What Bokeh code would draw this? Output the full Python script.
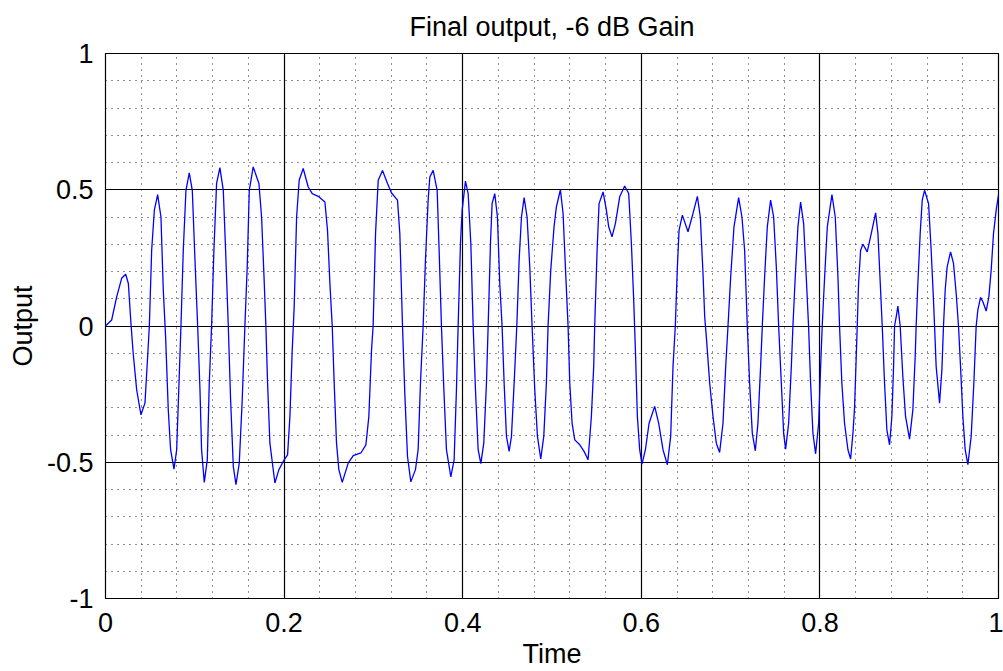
from bokeh.plotting import figure
from bokeh.models import Range1d, FixedTicker, CustomJSTickFormatter, ColumnDataSource
from bokeh.embed import file_html
from bokeh.resources import INLINE

# ---- data ----
time = [
    0.0, 0.0069, 0.0125, 0.0181, 0.0226, 0.0256, 0.0285, 0.031, 0.0349, 0.0397,
    0.0442, 0.0472, 0.0491, 0.0517, 0.0547, 0.0584, 0.0621, 0.0647, 0.0673, 0.0703,
    0.0729, 0.0767, 0.0797, 0.0823, 0.0845, 0.0871, 0.0901, 0.0938, 0.0972, 0.1002,
    0.1032, 0.1058, 0.1076, 0.1106, 0.114, 0.1162, 0.1188, 0.1214, 0.1244, 0.1281,
    0.1319, 0.1345, 0.1375, 0.1401, 0.1431, 0.1461, 0.1498, 0.1531, 0.1561, 0.1587,
    0.161, 0.1654, 0.1718, 0.1748, 0.1778, 0.1796, 0.1815, 0.1841, 0.1897, 0.1942,
    0.2001, 0.2039, 0.2065, 0.2091, 0.2113, 0.214, 0.2169, 0.2214, 0.227, 0.2315,
    0.2382, 0.2457, 0.2486, 0.2513, 0.2539, 0.2561, 0.2587, 0.2613, 0.2651, 0.2718,
    0.2774, 0.286, 0.2916, 0.2949, 0.2979, 0.2997, 0.3024, 0.3054, 0.3102, 0.3158,
    0.3203, 0.327, 0.3296, 0.3326, 0.3352, 0.3382, 0.3419, 0.3471, 0.3501, 0.3527,
    0.3557, 0.3583, 0.3613, 0.3632, 0.3669, 0.3714, 0.3736, 0.3762, 0.3789, 0.3818,
    0.3867, 0.3904, 0.393, 0.3949, 0.3975, 0.3994, 0.4031, 0.4061, 0.4091, 0.4117,
    0.4143, 0.4173, 0.4203, 0.4236, 0.4266, 0.4285, 0.4311, 0.4329, 0.4359, 0.4389,
    0.4415, 0.4441, 0.4464, 0.449, 0.452, 0.4546, 0.4576, 0.4606, 0.4632, 0.4658,
    0.4688, 0.4721, 0.4751, 0.4777, 0.4807, 0.4837, 0.4874, 0.4908, 0.4937, 0.4956,
    0.4986, 0.5023, 0.5049, 0.5094, 0.5124, 0.515, 0.518, 0.5199, 0.5225, 0.5255,
    0.5311, 0.5359, 0.5404, 0.5441, 0.5467, 0.5478, 0.5505, 0.5527, 0.5572, 0.5609,
    0.5635, 0.5672, 0.571, 0.5758, 0.5814, 0.5859, 0.5889, 0.5915, 0.5934, 0.5956,
    0.5982, 0.6008, 0.6046, 0.6087, 0.615, 0.6195, 0.6243, 0.6292, 0.6329, 0.6355,
    0.6381, 0.6404, 0.6423, 0.646, 0.6523, 0.6579, 0.6628, 0.6661, 0.6691, 0.671,
    0.6728, 0.6766, 0.6803, 0.684, 0.6877, 0.6915, 0.6945, 0.6971, 0.7001, 0.7038,
    0.709, 0.7127, 0.7157, 0.7187, 0.7213, 0.7243, 0.7277, 0.7306, 0.7336, 0.7355,
    0.7381, 0.7411, 0.7448, 0.7482, 0.7512, 0.7538, 0.7568, 0.7594, 0.7616, 0.765,
    0.768, 0.7698, 0.7724, 0.7754, 0.7784, 0.7818, 0.7847, 0.7873, 0.7896, 0.7922,
    0.7952, 0.7986, 0.8008, 0.8026, 0.8053, 0.8083, 0.8135, 0.8172, 0.8202, 0.822,
    0.8246, 0.8276, 0.8314, 0.8344, 0.837, 0.8388, 0.8407, 0.8418, 0.8433, 0.8456,
    0.8482, 0.853, 0.8575, 0.8624, 0.865, 0.8676, 0.8698, 0.8724, 0.875, 0.878,
    0.8806, 0.8825, 0.8836, 0.8855, 0.8873, 0.8899, 0.8929, 0.8959, 0.9004, 0.9041,
    0.9067, 0.9078, 0.9097, 0.9123, 0.9146, 0.9172, 0.9217, 0.9246, 0.9272, 0.9284,
    0.9302, 0.934, 0.9366, 0.9384, 0.9403, 0.9425, 0.9463, 0.9496, 0.9526, 0.9552,
    0.9575, 0.9601, 0.9627, 0.9657, 0.9694, 0.9724, 0.975, 0.9769, 0.9799, 0.9825,
    0.9862, 0.9892, 0.9918, 0.9944, 0.9974, 1.0,
]

output = [
    0.0, 0.022, 0.107, 0.175, 0.19, 0.156, 0.01, -0.1, -0.234, -0.326,
    -0.283, -0.112, 0.0, 0.278, 0.425, 0.482, 0.4, 0.132, -0.039, -0.308,
    -0.454, -0.525, -0.454, -0.21, 0.0, 0.278, 0.498, 0.562, 0.498, 0.242,
    0.0, -0.234, -0.454, -0.574, -0.491, -0.21, 0.0, 0.278, 0.523, 0.581,
    0.498, 0.278, 0.0, -0.271, -0.515, -0.582, -0.503, -0.271, 0.0, 0.217,
    0.498, 0.584, 0.523, 0.4, 0.156, 0.0, -0.21, -0.43, -0.576, -0.527,
    -0.491, -0.473, -0.332, -0.088, 0.071, 0.4, 0.535, 0.578, 0.51, 0.486,
    0.476, 0.455, 0.352, 0.156, 0.0, -0.21, -0.43, -0.527, -0.574, -0.503,
    -0.476, -0.466, -0.436, -0.332, -0.088, 0.0, 0.339, 0.535, 0.571, 0.523,
    0.488, 0.462, 0.339, 0.0, -0.25, -0.479, -0.572, -0.527, -0.454, -0.21,
    0.0, 0.242, 0.462, 0.547, 0.571, 0.498, 0.278, 0.0, -0.234, -0.454,
    -0.554, -0.491, -0.234, 0.0, 0.303, 0.425, 0.532, 0.486, 0.303, 0.0,
    -0.234, -0.454, -0.505, -0.43, -0.21, 0.0, 0.303, 0.449, 0.486, 0.4,
    0.156, 0.0, -0.21, -0.405, -0.46, -0.405, -0.21, 0.0, 0.242, 0.4,
    0.471, 0.4, 0.217, 0.0, -0.234, -0.405, -0.488, -0.405, -0.21, 0.0,
    0.205, 0.364, 0.437, 0.5, 0.413, 0.217, 0.0, -0.21, -0.357, -0.418,
    -0.436, -0.46, -0.491, -0.332, -0.149, 0.0, 0.278, 0.449, 0.492, 0.425,
    0.364, 0.327, 0.376, 0.474, 0.514, 0.486, 0.303, 0.095, -0.088, -0.332,
    -0.454, -0.507, -0.454, -0.357, -0.295, -0.357, -0.454, -0.509, -0.405, -0.149,
    0.0, 0.217, 0.352, 0.407, 0.346, 0.413, 0.476, 0.4, 0.193, 0.034,
    -0.039, -0.21, -0.332, -0.43, -0.464, -0.357, -0.149, 0.0, 0.181, 0.364,
    0.471, 0.4, 0.278, 0.0, -0.21, -0.393, -0.458, -0.357, -0.149, 0.0,
    0.181, 0.364, 0.462, 0.4, 0.217, 0.0, -0.21, -0.393, -0.452, -0.357,
    -0.149, 0.0, 0.181, 0.364, 0.455, 0.376, 0.181, 0.0, -0.21, -0.393,
    -0.469, -0.357, -0.149, 0.0, 0.181, 0.364, 0.482, 0.4, 0.181, 0.0,
    -0.21, -0.357, -0.454, -0.488, -0.393, -0.3, -0.112, 0.0, 0.156, 0.278,
    0.3, 0.272, 0.339, 0.415, 0.339, 0.156, 0.0, -0.21, -0.381, -0.436,
    -0.332, -0.149, 0.0, 0.034, 0.073, 0.0, -0.186, -0.332, -0.415, -0.308,
    -0.112, 0.0, 0.156, 0.339, 0.462, 0.498, 0.449, 0.278, 0.095, 0.0,
    -0.149, -0.283, -0.161, 0.0, 0.132, 0.217, 0.272, 0.23, 0.12, 0.0,
    -0.149, -0.332, -0.454, -0.509, -0.405, -0.21, 0.0, 0.059, 0.105, 0.089,
    0.055, 0.107, 0.205, 0.339, 0.425, 0.48,
]

x_ticks = [0, 0.2, 0.4, 0.6, 0.8, 1]
y_ticks = [-1, -0.5, 0, 0.5, 1]
x_minor = [round(i * 0.04, 2) for i in range(26)]
y_minor = [round(-1 + i * 0.1, 1) for i in range(21)]

FONT = "Liberation Sans"
FS = "27px"

p = figure(
    width=1003, height=671,
    x_range=Range1d(0, 1), y_range=Range1d(-1, 1),
    output_backend="svg", toolbar_location=None,
    min_border_left=105, min_border_right=5,
    min_border_top=53, min_border_bottom=72,
    title="Final output, -6 dB Gain",
)
p.background_fill_color = "white"
p.border_fill_color = "white"
p.outline_line_color = "black"
p.outline_line_width = 1.2

p.title.align = "center"
p.title.vertical_align = "top"
p.title.text_font = FONT
p.title.text_font_size = FS
p.title.text_font_style = "normal"
p.title.text_color = "black"
p.title.text_line_height = 0.6
p.title.standoff = 20

p.xaxis.ticker = FixedTicker(ticks=x_ticks, minor_ticks=x_minor)
p.yaxis.ticker = FixedTicker(ticks=y_ticks, minor_ticks=y_minor)
p.xaxis.formatter = CustomJSTickFormatter(code="return String(tick);")
p.yaxis.formatter = CustomJSTickFormatter(code="return String(tick);")

for ax in (p.xaxis[0], p.yaxis[0]):
    ax.axis_line_color = None
    ax.major_tick_line_color = None
    ax.minor_tick_line_color = None
    ax.major_tick_in = 0
    ax.major_tick_out = 0
    ax.minor_tick_in = 0
    ax.minor_tick_out = 0
    ax.major_label_text_font = FONT
    ax.major_label_text_font_size = FS
    ax.major_label_text_color = "black"
    ax.axis_label_text_font = FONT
    ax.axis_label_text_font_size = FS
    ax.axis_label_text_font_style = "normal"
    ax.axis_label_text_color = "black"

p.xaxis.major_label_text_line_height = 0.8
p.xaxis.axis_label_text_line_height = 0.8
p.xaxis.major_label_standoff = 14
p.xaxis.axis_label_standoff = 4
p.yaxis.major_label_standoff = 12
p.yaxis.axis_label_standoff = 6

p.xaxis.axis_label = "Time"
p.yaxis.axis_label = "Output"

for g in (p.xgrid[0], p.ygrid[0]):
    g.grid_line_color = "black"
    g.grid_line_width = 1.2
    g.minor_grid_line_color = "#222222"
    g.minor_grid_line_width = 1
    g.minor_grid_line_dash = "1 5"

src = ColumnDataSource(data=dict(t=time, v=output))
p.line("t", "v", source=src, line_color="#0000ff", line_width=1.3)

open("out.html", "w").write(file_html(p, INLINE))
